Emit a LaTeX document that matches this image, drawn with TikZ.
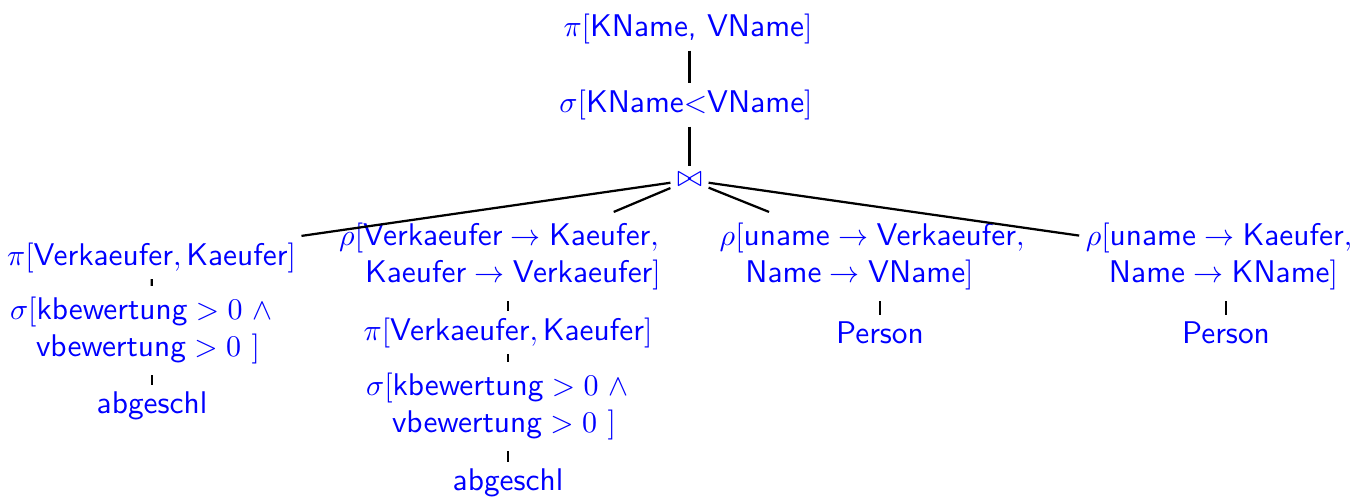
\documentclass[tikz,border=0pt]{standalone}
\begin{document}
\begin{tikzpicture}[x=0.3333pt, y=-0.3333pt,
    op/.style={text=blue, font=\fontsize{10.45}{12.3}\selectfont\sffamily, inner sep=2pt},
    opm/.style={op, align=center, inner ysep=3.5pt},
    edge/.style={line width=0.75pt}]
  \useasboundingbox (0,0) rectangle (1363,496);

  % projection, selection and join
  \node[op] (r) at (688,29) {$\pi[$KName, VName$]$};
  \node[op] (s) at (686,105) {$\sigma[$KName$<$VName$]$};
  \node[op] (j) at (689.5,180) {$\bowtie$};

  % left branch
  \node[op] (n1) at (151.5,257.5) {$\pi[\textsf{Verkaeufer}, \textsf{Kaeufer}]$};
  \node[opm] (n1b) at (152,330.5) {$\sigma[\textsf{kbewertung} > 0$ $\wedge$\hspace*{7pt}\\ $\textsf{vbewertung} > 0$ $]$\hspace*{2.7pt}};
  \node[op] (n1c) at (152,405.5) {abgeschl};

  % renaming branch
  \node[opm] (n2) at (508,256.5) {$\rho[\textsf{Verkaeufer} \rightarrow \textsf{Kaeufer},$\hspace*{6pt}\\ \hspace*{3.3pt}$\textsf{Kaeufer} \rightarrow \textsf{Verkaeufer}]$};
  \node[op] (n2b) at (508,332.5) {$\pi[\textsf{Verkaeufer}, \textsf{Kaeufer}]$};
  \node[opm] (n2c) at (508,406.5) {$\sigma[\textsf{kbewertung} > 0$ $\wedge$\hspace*{7pt}\\ $\textsf{vbewertung} > 0$ $]$\hspace*{2.7pt}};
  \node[op] (n2d) at (508,482.5) {abgeschl};

  % person relations
  \node[opm] (n3) at (880,256.5) {$\rho[\textsf{uname} \rightarrow \textsf{Verkaeufer},$\hspace*{5.3pt}\\ $\textsf{Name} \rightarrow \textsf{VName}]$\hspace*{13.7pt}};
  \node[op] (n3b) at (880,332.6) {Person};
  \node[opm] (n4) at (1226,256.5) {$\rho[\textsf{uname} \rightarrow \textsf{Kaeufer},$\hspace*{4.7pt}\\ $\textsf{Name} \rightarrow \textsf{KName}]$\hspace*{1.7pt}};
  \node[op] (n4b) at (1226,332.6) {Person};

  % tree edges
  \draw[edge] (r.south -| j) -- (s.north -| j);
  \draw[edge] (s.south -| j) -- (j);
  \foreach \c in {n1,n2,n3,n4} \draw[edge] (j) -- (\c);
  \draw[edge] (n1) -- (n1b);
  \draw[edge] (n1b) -- (n1c);
  \draw[edge] (n2) -- (n2b);
  \draw[edge] (n2b) -- (n2c);
  \draw[edge] (n2c) -- (n2d);
  \draw[edge] (n3) -- (n3b);
  \draw[edge] (n4) -- (n4b);
\end{tikzpicture}
\end{document}
